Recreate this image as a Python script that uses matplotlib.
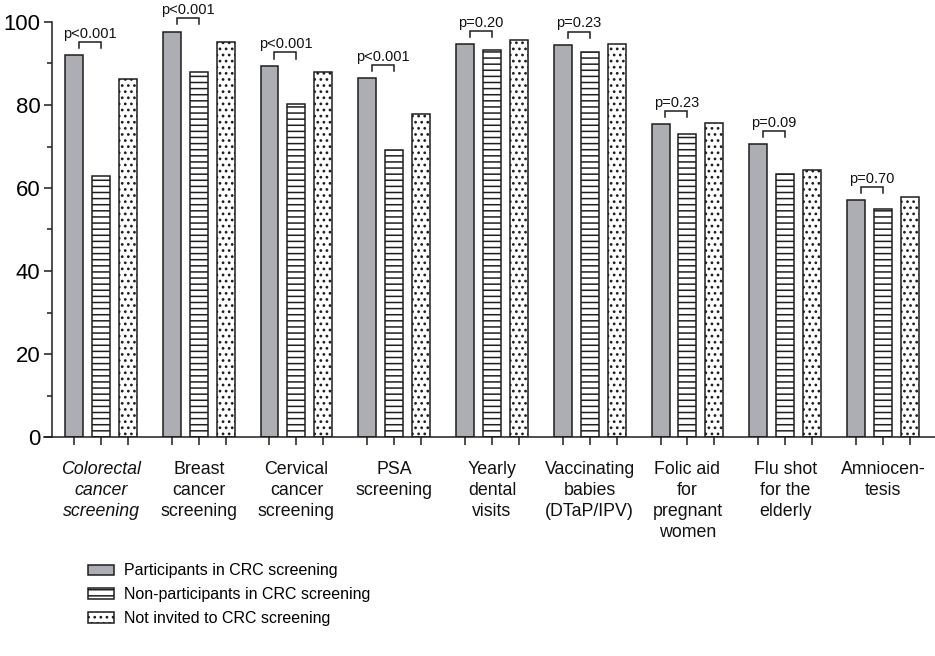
import matplotlib
matplotlib.use("Agg")
import matplotlib.pyplot as plt
from matplotlib.patches import Patch
import numpy as np

# Share of respondents taking part in each preventive activity (%)
categories = [
    "Colorectal\ncancer\nscreening",
    "Breast\ncancer\nscreening",
    "Cervical\ncancer\nscreening",
    "PSA\nscreening",
    "Yearly\ndental\nvisits",
    "Vaccinating\nbabies\n(DTaP/IPV)",
    "Folic aid\nfor\npregnant\nwomen",
    "Flu shot\nfor the\nelderly",
    "Amniocen-\ntesis",
]
participants = [92.0, 97.7, 89.5, 86.4, 94.6, 94.5, 75.4, 70.5, 57.1]
non_participants = [63.0, 87.9, 80.2, 69.1, 93.3, 92.7, 73.1, 63.3, 54.9]
not_invited = [86.3, 95.3, 87.9, 77.8, 95.7, 94.8, 75.7, 64.3, 57.9]
p_values = ["p<0.001", "p<0.001", "p<0.001", "p<0.001", "p=0.20",
            "p=0.23", "p=0.23", "p=0.09", "p=0.70"]
series_names = ["Participants in CRC screening",
                "Non-participants in CRC screening",
                "Not invited to CRC screening"]
y_ticks = [0, 20, 40, 60, 80, 100]

DPI = 110
W, H = 935, 656
plt.rcParams["font.family"] = ["Liberation Sans", "DejaVu Sans"]
plt.rcParams["hatch.linewidth"] = 1.0

fig = plt.figure(figsize=(W / DPI, H / DPI), dpi=DPI)
ax = fig.add_axes([52 / W, 1 - 437 / H, (W - 52) / W, 415 / H])

x = np.arange(len(categories))
offset = 0.276
width = 0.184
edge = "#1e1e1e"
gray = "#adaeb3"

ax.bar(x - offset, participants, width, color=gray, edgecolor=edge, linewidth=1.0)
ax.bar(x, non_participants, width, color="white", edgecolor=edge, linewidth=1.0, hatch="---")
ax.bar(x + offset, not_invited, width, color="white", edgecolor=edge, linewidth=1.0, hatch="...")

# significance brackets between participants and non-participants
for i, (a, b, lab) in enumerate(zip(participants, non_participants, p_values)):
    top = max(a, b) + 3.2
    x0 = x[i] - offset + 0.05
    x1 = x[i]
    ax.plot([x0, x0, x1, x1], [top - 1.5, top, top, top - 1.5], color=edge,
            linewidth=1.0, clip_on=False, solid_joinstyle="miter")
    ax.text((x0 + x1) / 2, top + 1.0, lab, ha="center", va="baseline",
            fontsize=9.6, color="#111111", clip_on=False)

ax.set_xlim(-0.501, 8.532)
ax.set_ylim(0, 100)

for s in ["top", "right", "bottom"]:
    ax.spines[s].set_visible(False)
ax.spines["left"].set_linewidth(1.0)
ax.spines["left"].set_color(edge)
ax.axhline(0, xmin=-0.009, xmax=1, color=edge, linewidth=1.0, clip_on=False)

ax.set_yticks(y_ticks)
ax.set_yticks([10, 30, 50, 70, 90], minor=True)
ax.tick_params(axis="y", which="major", length=5.5, width=1.0, color=edge,
               labelsize=14.5, pad=2)
ax.tick_params(axis="y", which="minor", length=3, width=1.0, color=edge)

bar_ticks = np.concatenate([x - offset, x, x + offset])
ax.set_xticks(np.sort(bar_ticks))
ax.set_xticklabels([])
ax.tick_params(axis="x", length=5.5, width=1.0, color=edge)

for i, lab in enumerate(categories):
    ax.annotate(lab, xy=(x[i], 0), xycoords=("data", "axes fraction"),
                xytext=(0, -16), textcoords="offset points",
                ha="center", va="top", fontsize=11.6, linespacing=1.3,
                style="italic" if i == 0 else "normal", color="#111111")

handles = [
    Patch(facecolor=gray, edgecolor=edge, linewidth=1.0),
    Patch(facecolor="white", edgecolor=edge, linewidth=1.0, hatch="---"),
    Patch(facecolor="white", edgecolor=edge, linewidth=1.0, hatch="..."),
]
fig.legend(handles, series_names, loc="upper left",
           bbox_to_anchor=(82 / W, 1 - 557 / H), frameon=False,
           fontsize=10.5, handlelength=1.6, handleheight=0.6,
           handletextpad=0.6, labelspacing=0.55, borderaxespad=0)

fig.savefig("out.png", dpi=DPI)
